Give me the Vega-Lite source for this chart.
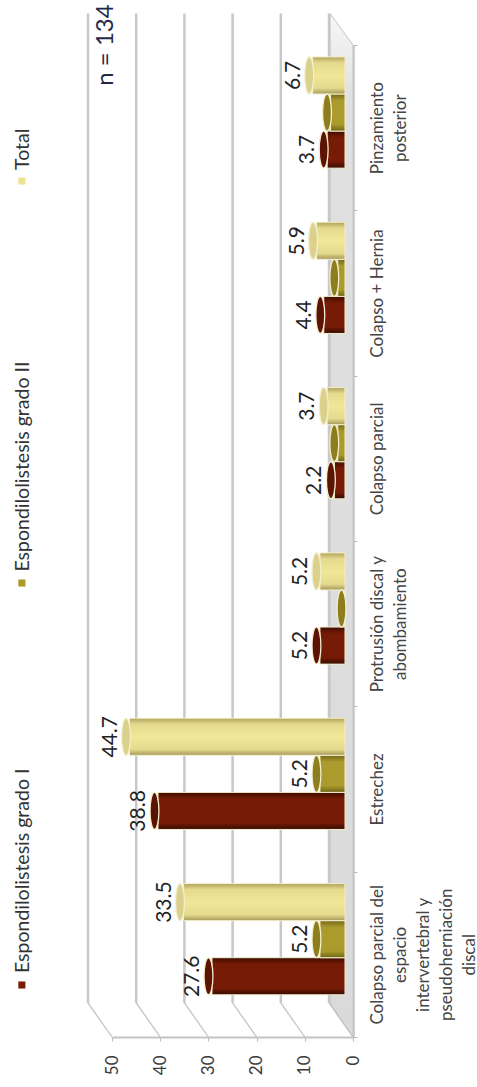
{"$schema":"https://vega.github.io/schema/vega-lite/v6.json","width":241,"height":992,"autosize":{"type":"none"},"padding":{"left":112,"top":45,"right":124,"bottom":50},"background":"white","config":{"view":{"stroke":null},"font":"Lato"},
"datasets":{
"valores":[
{"categoria":"Colapso parcial del|espacio|intervertebral y|pseudoherniación|discal","serie":"Espondilolistesis grado I","valor":27.6,"etiqueta":"27.6"},
{"categoria":"Colapso parcial del|espacio|intervertebral y|pseudoherniación|discal","serie":"Espondilolistesis grado II","valor":5.2,"etiqueta":"5.2"},
{"categoria":"Colapso parcial del|espacio|intervertebral y|pseudoherniación|discal","serie":"Total","valor":33.5,"etiqueta":"33.5"},
{"categoria":"Estrechez","serie":"Espondilolistesis grado I","valor":38.8,"etiqueta":"38.8"},
{"categoria":"Estrechez","serie":"Espondilolistesis grado II","valor":5.2,"etiqueta":"5.2"},
{"categoria":"Estrechez","serie":"Total","valor":44.7,"etiqueta":"44.7"},
{"categoria":"Protrusión discal y|abombamiento","serie":"Espondilolistesis grado I","valor":5.2,"etiqueta":"5.2"},
{"categoria":"Protrusión discal y|abombamiento","serie":"Espondilolistesis grado II","valor":0,"etiqueta":null},
{"categoria":"Protrusión discal y|abombamiento","serie":"Total","valor":5.2,"etiqueta":"5.2"},
{"categoria":"Colapso parcial","serie":"Espondilolistesis grado I","valor":2.2,"etiqueta":"2.2"},
{"categoria":"Colapso parcial","serie":"Espondilolistesis grado II","valor":1.5,"etiqueta":null},
{"categoria":"Colapso parcial","serie":"Total","valor":3.7,"etiqueta":"3.7"},
{"categoria":"Colapso + Hernia","serie":"Espondilolistesis grado I","valor":4.4,"etiqueta":"4.4"},
{"categoria":"Colapso + Hernia","serie":"Espondilolistesis grado II","valor":1.5,"etiqueta":null},
{"categoria":"Colapso + Hernia","serie":"Total","valor":5.9,"etiqueta":"5.9"},
{"categoria":"Pinzamiento|posterior","serie":"Espondilolistesis grado I","valor":3.7,"etiqueta":"3.7"},
{"categoria":"Pinzamiento|posterior","serie":"Espondilolistesis grado II","valor":3,"etiqueta":null},
{"categoria":"Pinzamiento|posterior","serie":"Total","valor":6.7,"etiqueta":"6.7"}
],
"grid":[{"v":0},{"v":10},{"v":20},{"v":30},{"v":40},{"v":50}],
"suelo":[{"v":4.76,"desde":0.206,"hasta":6.19},{"v":0,"desde":0,"hasta":6}],
"leyenda":[{"serie":"Total"},{"serie":"Espondilolistesis grado II"},{"serie":"Espondilolistesis grado I"}]
},
"data":{"name":"valores"},
"resolve":{"scale":{"y":"independent"}},
"layer":[
{"data":{"name":"suelo"},"mark":{"type":"area","orient":"vertical","stroke":"#c4c4c4","strokeWidth":1,"fill":{"gradient":"linear","x1":0,"x2":0,"y1":0,"y2":1,"stops":[{"offset":0,"color":"#f8f8f8"},{"offset":0.08,"color":"#e0e0e0"},{"offset":1,"color":"#dadada"}]}},
"encoding":{"x":{"field":"v","type":"quantitative","scale":{"domain":[50,0],"nice":false,"zero":false},"axis":{"values":[0,10,20,30,40,50],"grid":false,"title":null,"domain":true,"domainColor":"#c4c4c4","domainWidth":2,"tickColor":"#b8b8b8","tickSize":4,"labelAngle":-90,"labelFontSize":17,"labelColor":"#3c3c3c","labelPadding":14,"labelFont":"Lato"}},
"y":{"field":"desde","type":"quantitative","scale":{"domain":[0,6],"nice":false,"zero":false},"axis":null},"y2":{"field":"hasta"}}},
{"data":{"name":"grid"},"mark":{"type":"rule","color":"#c8c8c8","strokeWidth":2.5,"xOffset":-24},
"encoding":{"x":{"field":"v","type":"quantitative"},"y":{"datum":0.206,"scale":{"domain":[0,6],"nice":false,"zero":false},"axis":null},"y2":{"datum":6.19}}},
{"data":{"name":"grid"},"mark":{"type":"rule","color":"#c4c4c4","strokeWidth":1.3,"xOffset":-24,"x2Offset":0},
"encoding":{"x":{"field":"v","type":"quantitative"},"x2":{"field":"v"},"y":{"datum":0.206,"scale":{"domain":[0,6],"nice":false,"zero":false},"axis":null},"y2":{"datum":0}}},
{"encoding":{"y":{"field":"categoria","type":"nominal","scale":{"domain":["Pinzamiento|posterior","Colapso + Hernia","Colapso parcial","Protrusión discal y|abombamiento","Estrechez","Colapso parcial del|espacio|intervertebral y|pseudoherniación|discal"],"paddingInner":0,"paddingOuter":0},
"axis":{"orient":"right","title":null,"tickBand":"extent","domainColor":"#c4c4c4","domainWidth":2.5,"tickColor":"#b8b8b8","tickSize":4,"labelAngle":-90,"labelAlign":"center","labelBaseline":"top","labelFontSize":17,"labelFont":"Lato","labelColor":"#444444","labelPadding":12,"labelLineHeight":23,"labelExpr":"split(datum.label,'|')","labelLimit":0}},
"yOffset":{"field":"serie","type":"nominal","scale":{"domain":["Total","Espondilolistesis grado II","Espondilolistesis grado I"],"paddingInner":0,"paddingOuter":0.73,"align":0.22}}},
"layer":[
{"mark":{"type":"bar","xOffset":-8,"x2Offset":-8,"stroke":"#f3eecb","strokeWidth":1},
"encoding":{"x":{"field":"valor","type":"quantitative"},"x2":{"datum":0},
"color":{"condition":[
{"test":"datum.serie==='Total'","value":{"gradient":"linear","x1":0,"x2":0,"y1":0,"y2":1,"stops":[{"offset":0,"color":"#b0a25c"},{"offset":0.16,"color":"#e4da8e"},{"offset":0.5,"color":"#f0e798"},{"offset":0.84,"color":"#e4da8e"},{"offset":1,"color":"#a5975a"}]}},
{"test":"datum.serie==='Espondilolistesis grado II'","value":{"gradient":"linear","x1":0,"x2":0,"y1":0,"y2":1,"stops":[{"offset":0,"color":"#75681a"},{"offset":0.18,"color":"#ab9a2c"},{"offset":0.82,"color":"#ab9a2c"},{"offset":1,"color":"#6f6318"}]}}],
"value":{"gradient":"linear","x1":0,"x2":0,"y1":0,"y2":1,"stops":[{"offset":0,"color":"#3e0c02"},{"offset":0.18,"color":"#761c06"},{"offset":0.82,"color":"#761c06"},{"offset":1,"color":"#360a02"}]}}}},
{"mark":{"type":"point","filled":true,"shape":"M0,-1 A0.24,1 0 1 0 0,1 A0.24,1 0 1 0 0,-1 Z","size":1369,"opacity":1,"xOffset":-11.5,"stroke":"#f3eecb","strokeWidth":1.3},
"encoding":{"x":{"field":"valor","type":"quantitative"},
"color":{"condition":[
{"test":"datum.serie==='Total'","value":"#dcd18c"},
{"test":"datum.serie==='Espondilolistesis grado II'","value":"#8c7d1e"}],"value":"#5c1204"},
"stroke":{"value":"#f3eecb"}}},
{"transform":[{"filter":"datum.etiqueta!==null"}],"mark":{"type":"text","angle":-90,"align":"center","baseline":"middle","fontSize":21,"font":"Lato","color":"#222222","xOffset":-27,"yOffset":6},
"encoding":{"x":{"field":"valor","type":"quantitative"},"text":{"field":"etiqueta"}}}
]},
{"data":{"name":"leyenda"},"mark":{"type":"square","size":50,"opacity":1,"filled":true},
"encoding":{"x":{"datum":68.7},"y":{"field":"serie","type":"nominal","scale":{"type":"point","padding":0,"domain":["Total","Espondilolistesis grado II","Espondilolistesis grado I"],"range":[136,940]},"axis":null},
"color":{"field":"serie","type":"nominal","legend":null,"scale":{"domain":["Espondilolistesis grado I","Espondilolistesis grado II","Total"],"range":["#761c06","#ab9a2c","#ece291"]}}}},
{"data":{"name":"leyenda"},"mark":{"type":"text","angle":-90,"align":"left","baseline":"middle","fontSize":19.5,"font":"Lato","color":"#333333"},
"encoding":{"x":{"datum":68.5},"y":{"field":"serie","type":"nominal","scale":{"type":"point","padding":0,"domain":["Total","Espondilolistesis grado II","Espondilolistesis grado I"],"range":[125,928]},"axis":null},"text":{"field":"serie"}}},
{"data":{"values":[{"nota":"n = 134"}]},"mark":{"type":"text","angle":-90,"align":"center","baseline":"middle","fontSize":24,"font":"Lato","color":"#1f2a4a"},
"encoding":{"x":{"datum":51.3},"y":{"datum":6,"scale":{"domain":[0,6],"nice":false,"zero":false},"axis":null},"text":{"field":"nota"}}}
]}
